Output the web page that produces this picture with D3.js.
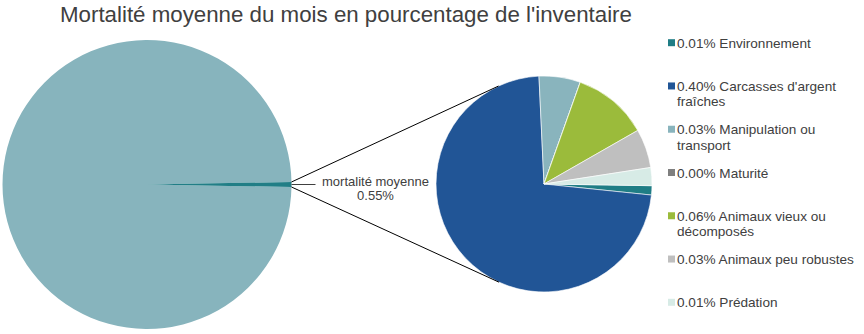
<!DOCTYPE html>
<html>
<head>
<meta charset="utf-8">
<script src="https://cdn.jsdelivr.net/npm/d3@7"></script>
<style>
  body { margin: 0; background: #fff; }
  svg { display: block; font-family: "Liberation Sans", Arial, sans-serif; }
</style>
</head>
<body>
<svg id="chart" width="864" height="334"></svg>
<script>
// causes de mortalité (second pie), % de l'inventaire
const causes = ["Environnement", "Carcasses d'argent fraîches", "Manipulation ou transport", "Maturité",
  "Animaux vieux ou décomposés", "Animaux peu robustes", "Prédation"];
const pourcentages = [0.0076, 0.399, 0.034, 0, 0.062, 0.032, 0.0148];
const couleurs = ["#1f7d85", "#215596", "#89b4bd", "#7f7f7f", "#9bbb3b", "#bfbfbf", "#d7ebe6"];

const titre = "Mortalité moyenne du mois en pourcentage de l'inventaire";
const etiquetteMoyenne = "mortalité moyenne";

const svg = d3.select("#chart");
const textColor = "#404040";

svg.append("text")
  .attr("x", 60).attr("y", 22)
  .attr("font-size", 22.3)
  .attr("fill", textColor)
  .text(titre);

const total = d3.sum(pourcentages);
const fmt = v => v.toFixed(2) + "%";

// big pie: rest of inventory + mortality slice centred at 3 o'clock
const big = { cx: 147, cy: 184.5, r: 144.5 };
const bigData = [100 - total, total];
const bigHalf = Math.PI * total / 100;
const bigPie = d3.pie().sort(null)
  .startAngle(Math.PI / 2 + bigHalf)
  .endAngle(Math.PI / 2 + bigHalf + 2 * Math.PI);
const bigArcs = bigPie(bigData);
const bigArc = d3.arc().innerRadius(0).outerRadius(big.r);

const gBig = svg.append("g").attr("transform", `translate(${big.cx},${big.cy})`);
gBig.selectAll("path")
  .data(bigArcs)
  .join("path")
  .attr("d", bigArc)
  .attr("fill", (d, i) => i === 0 ? "#87b4bd" : "#217e86");

// second pie
const small = { cx: 544, cy: 184, r: 108 };
const color = d3.scaleOrdinal().domain(causes).range(couleurs);
const startA = Math.PI / 2 + 0.9 * Math.PI / 180;
const smallPie = d3.pie().sort(null).startAngle(startA).endAngle(startA + 2 * Math.PI);
const smallArc = d3.arc().innerRadius(0).outerRadius(small.r);

const gSmall = svg.append("g").attr("transform", `translate(${small.cx},${small.cy})`);
gSmall.selectAll("path")
  .data(smallPie(pourcentages))
  .join("path")
  .attr("d", smallArc)
  .attr("fill", (d, i) => color(causes[i]))
  .attr("stroke", "#fff")
  .attr("stroke-width", 0.6);

// connector lines from the mortality slice to the tangents of the second pie
const slice = bigArcs[1];
const edgePt = a => [big.cx + big.r * Math.sin(a), big.cy - big.r * Math.cos(a)];
const pTop = edgePt(slice.startAngle);
const pBot = edgePt(slice.endAngle);

function tangent(p, up) {
  const dx = small.cx - p[0], dy = small.cy - p[1];
  const d = Math.hypot(dx, dy);
  const base = Math.atan2(dy, dx);
  const alpha = Math.asin(small.r / d);
  const len = Math.sqrt(d * d - small.r * small.r);
  const a = base + (up ? -alpha : alpha);
  return [p[0] + len * Math.cos(a), p[1] + len * Math.sin(a)];
}

const line = d3.line();
svg.append("path").attr("d", line([pTop, tangent(pTop, true)]))
  .attr("stroke", "#000").attr("stroke-width", 1).attr("fill", "none");
svg.append("path").attr("d", line([pBot, tangent(pBot, false)]))
  .attr("stroke", "#000").attr("stroke-width", 1).attr("fill", "none");

// label of the mortality slice
const tip = [big.cx + big.r, big.cy];
svg.append("path").attr("d", line([tip, [tip[0] + 24, tip[1]]]))
  .attr("stroke", "#404040").attr("stroke-width", 1);
const lbl = svg.append("text")
  .attr("text-anchor", "middle")
  .attr("font-size", 13)
  .attr("fill", textColor);
lbl.append("tspan").attr("x", 375.5).attr("y", 185.5).text(etiquetteMoyenne);
lbl.append("tspan").attr("x", 375.5).attr("y", 199.5).text(fmt(total));

// legend
const legend = svg.append("g").attr("transform", "translate(668,0)");
const rowY = d3.scalePoint().domain(causes).range([47.7, 307.3]);
const maxW = 186;

causes.forEach((c, i) => {
  const y = rowY(c);
  legend.append("rect")
    .attr("x", 0).attr("y", y - 8.5)
    .attr("width", 7).attr("height", 7)
    .attr("fill", color(c));

  const t = legend.append("text")
    .attr("font-size", 13.6)
    .attr("fill", textColor);
  const words = (fmt(pourcentages[i]) + " " + c).split(" ");
  let lineNo = 0;
  let ts = t.append("tspan").attr("x", 9).attr("y", y);
  let cur = [];
  words.forEach(w => {
    cur.push(w);
    ts.text(cur.join(" "));
    if (ts.node().getComputedTextLength() > maxW && cur.length > 1) {
      cur.pop();
      ts.text(cur.join(" "));
      cur = [w];
      lineNo++;
      ts = t.append("tspan").attr("x", 9).attr("y", y + lineNo * 15.5).text(w);
    }
  });
});
</script>
</body>
</html>
